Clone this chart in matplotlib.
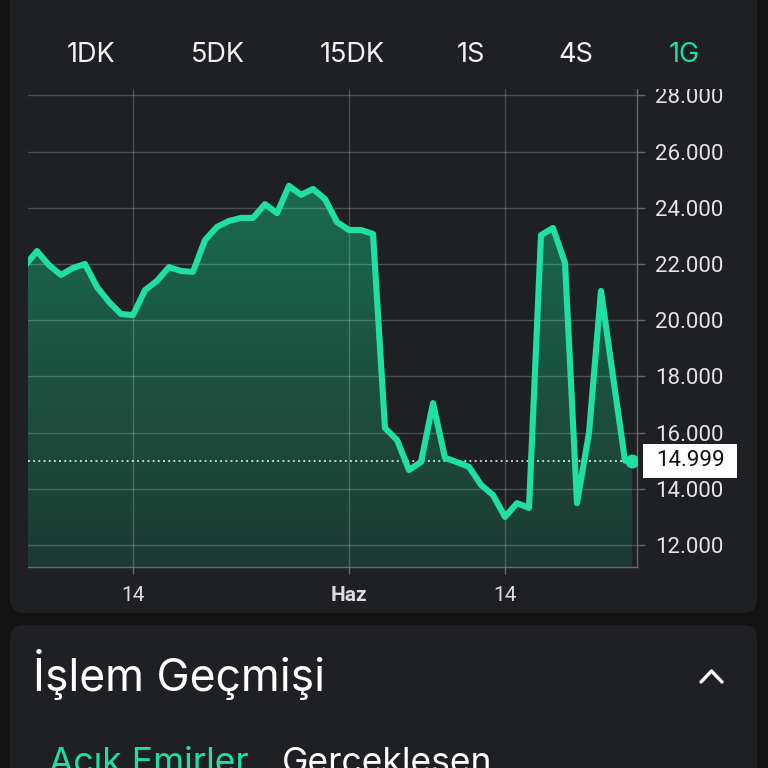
import matplotlib
matplotlib.use("Agg")
import matplotlib.pyplot as plt
import matplotlib.transforms as mtransforms
from matplotlib.patches import FancyBboxPatch, Rectangle
from matplotlib.lines import Line2D
from matplotlib.colors import LinearSegmentedColormap
from matplotlib.ticker import FuncFormatter
import numpy as np

# daily closes, day 0 = 14 May (last point is the live price)
days = list(range(-9, 42)) + [41.6]
prices = [21940, 22460, 21960, 21610, 21860, 22000, 21180, 20650, 20220, 20180,
          21070, 21400, 21890, 21750, 21720, 22850, 23320, 23530, 23640, 23640,
          24130, 23810, 24780, 24460, 24670, 24310, 23490, 23210, 23210, 23070,
          16160, 15740, 14670, 14950, 17050, 15100, 14950, 14780, 14140, 13780,
          13000, 13490, 13320, 23030, 23280, 22040, 13490, 15990, 21040, 18000,
          15000, 14999]
last_price = 14999

x_ticks = [0, 18, 31]
x_labels = ["14", "Haz", "14"]
y_ticks = [12000, 14000, 16000, 18000, 20000, 22000, 24000, 26000, 28000]

tabs = ["1DK", "5DK", "15DK", "1S", "4S", "1G"]
tab_x = [91, 218, 352, 471, 576, 684]

GREEN = "#1fe0a0"
CARD = "#1f2023"
OUTER = "#131313"
W = H = 768


def fx(px):
    return px / W


def fy(py):
    return 1 - py / H


fig = plt.figure(figsize=(7.68, 7.68), dpi=100, facecolor=OUTER)

# cards
fig.patches.append(FancyBboxPatch((fx(10), fy(613)), fx(747), fy(-40) - fy(613),
                                  boxstyle="round,pad=0,rounding_size=0.018",
                                  transform=fig.transFigure, facecolor=CARD,
                                  edgecolor="none", zorder=-2))
fig.patches.append(FancyBboxPatch((fx(10), fy(820)), fx(747), fy(625) - fy(820),
                                  boxstyle="round,pad=0,rounding_size=0.018",
                                  transform=fig.transFigure, facecolor=CARD,
                                  edgecolor="none", zorder=-2))

ax = fig.add_axes([fx(28), fy(567), fx(637 - 28), fy(88) - fy(567)])
ax.set_facecolor(CARD)
ax.set_xlim(-8.75, 42)
ax.set_ylim(11217, 28263)

# gradient area under the line
fill = ax.fill_between(days, prices, 11217, color="none", lw=0)
cmap = LinearSegmentedColormap.from_list("g", ["#1d3a32", "#196c4f"])
grad = np.linspace(0, 1, 256).reshape(-1, 1)
img = ax.imshow(grad, cmap=cmap, origin="lower", aspect="auto",
                extent=[-8.75, 42, 11217, 25000], zorder=1)
img.set_clip_path(fill.get_paths()[0], transform=ax.transData)

ax.plot(days, prices, color=GREEN, lw=4.4, solid_joinstyle="round",
        solid_capstyle="round", zorder=4)
ax.plot(days[-1], prices[-1], "o", color=GREEN, ms=9, zorder=5)
ax.axhline(last_price, color="white", lw=1.1, ls=(0, (1.2, 2.2)), zorder=3)

# grid and axes
ax.set_axisbelow(False)
ax.grid(True, color="white", alpha=0.2, lw=1)
for s in ["left", "top"]:
    ax.spines[s].set_visible(False)
for s in ["right", "bottom"]:
    ax.spines[s].set_color("#6a6a6d")
    ax.spines[s].set_linewidth(1)

ax.yaxis.tick_right()
ax.set_yticks(y_ticks)
ax.yaxis.set_major_formatter(FuncFormatter(lambda v, p: f"{v:,.0f}".replace(",", ".")))
ax.tick_params(axis="y", length=6, width=1, color="#6a6a6d", pad=7,
               labelsize=16, labelcolor="#e4e4e4")
ax.set_xticks(x_ticks)
ax.set_xticklabels(x_labels)
ax.tick_params(axis="x", length=5, width=1, color="#6a6a6d", pad=9,
               labelsize=15, labelcolor="#dcdcdc")
for lab in ax.get_yticklabels() + ax.get_xticklabels():
    lab.set_family("Roboto")
ax.get_xticklabels()[1].set_fontweight("bold")

# live price tag
trans = mtransforms.blended_transform_factory(ax.transAxes, ax.transData)
ax.add_patch(Rectangle(((643 - 28) / 609, last_price - 610), (737 - 643) / 609, 1220,
                       transform=trans, facecolor="white", edgecolor="none",
                       clip_on=False, zorder=6))
ax.text((690 - 28) / 609, last_price, "14.999", transform=trans, ha="center",
        va="center", fontsize=16, family="Roboto", color="#111111",
        clip_on=False, zorder=7)

# top strip with interval tabs covers the clipped top of the chart
fig.patches.append(Rectangle((fx(10), fy(89)), fx(747), 1 - fy(89),
                             transform=fig.transFigure, facecolor=CARD,
                             edgecolor="none", zorder=3))
for t, x in zip(tabs, tab_x):
    fig.text(fx(x), fy(55), t, ha="center", va="center", fontsize=19.5,
             family="Inter", color=GREEN if t == "1G" else "#f2f2f2", zorder=4)

# lower card
fig.text(fx(33), fy(675), "İşlem Geçmişi", ha="left", va="center", fontsize=32,
         family="Inter", color="white", zorder=4)
fig.lines.append(Line2D([fx(701), fx(711.5), fx(722)], [fy(682), fy(671), fy(682)],
                        transform=fig.transFigure, color="white", lw=2.4,
                        solid_capstyle="round", solid_joinstyle="round", zorder=4))
fig.text(fx(49), fy(763), "Açık Emirler", ha="left", va="center", fontsize=25.5,
         family="Inter", color=GREEN, zorder=4)
fig.text(fx(282), fy(763), "Gerçekleşen", ha="left", va="center", fontsize=25.5,
         family="Inter", color="white", zorder=4)

fig.savefig("out.png", dpi=100, facecolor=OUTER)
